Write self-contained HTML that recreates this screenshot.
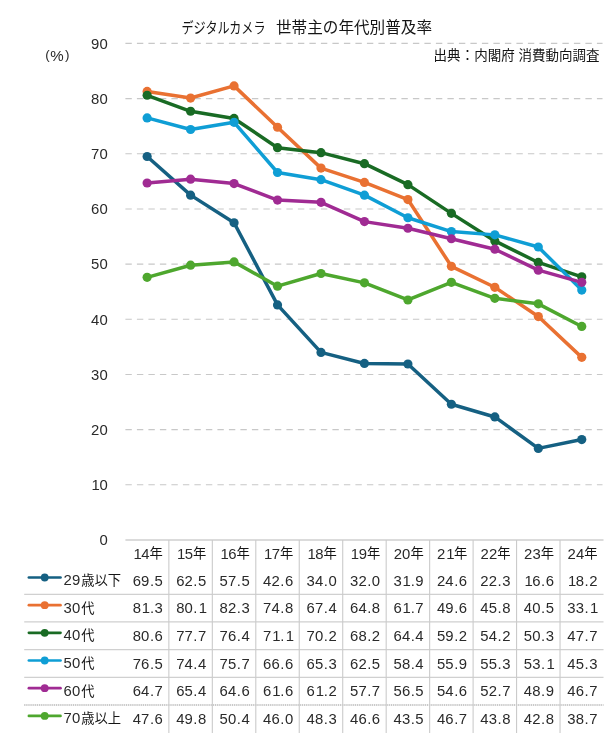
<!DOCTYPE html>
<html lang="ja"><head><meta charset="utf-8"><title>デジタルカメラ 世帯主の年代別普及率</title>
<style>
html,body{margin:0;padding:0;background:#fff}
body{width:614px;height:733px;overflow:hidden}
svg{display:block}
text{font-family:"Liberation Sans",sans-serif;white-space:pre}
text.jp{font-family:"Liberation Sans","Noto Sans CJK JP",sans-serif}
</style></head><body>
<svg width="614" height="733" viewBox="0 0 614 733" style="will-change:transform">
<rect width="614" height="733" fill="#fff"/>
<path d="M125.4 484.82H602.5M125.4 429.64H602.5M125.4 374.47H602.5M125.4 319.29H602.5M125.4 264.11H602.5M125.4 208.93H602.5M125.4 153.76H602.5M125.4 98.58H602.5M125.4 43.4H602.5" stroke="#c8c8c8" stroke-width="1.1" stroke-dasharray="6.4 5.1" fill="none"/>
<path d="M125.4 540H603.5M24.2 594.3H603.5M24.2 621.97H603.5M24.2 649.65H603.5M24.2 677.32H603.5" stroke="#d0d0d0" stroke-width="1.3" fill="none"/>
<path d="M24.2 705H603.5" stroke="#ececec" stroke-width="1.3" fill="none"/><path d="M24.2 705H603.5" stroke="#bcbcbc" stroke-width="1.3" stroke-dasharray="1.06 1.06" fill="none"/>
<path d="M168.86 540V733M212.33 540V733M255.79 540V733M299.25 540V733M342.72 540V733M386.18 540V733M429.65 540V733M473.11 540V733M516.57 540V733M560.04 540V733" stroke="#cbcbcb" stroke-width="1.1" fill="none"/>
<g fill="#156082" stroke="#156082">
<polyline points="147.13,156.51 190.6,195.14 234.06,222.73 277.52,304.94 320.99,352.4 364.45,363.43 407.91,363.98 451.38,404.26 494.84,416.95 538.3,448.4 581.77,439.58" fill="none" stroke-width="3.5" stroke-linejoin="round" stroke-linecap="round"/>
<g stroke="none"><circle cx="147.13" cy="156.51" r="4.6"/><circle cx="190.6" cy="195.14" r="4.6"/><circle cx="234.06" cy="222.73" r="4.6"/><circle cx="277.52" cy="304.94" r="4.6"/><circle cx="320.99" cy="352.4" r="4.6"/><circle cx="364.45" cy="363.43" r="4.6"/><circle cx="407.91" cy="363.98" r="4.6"/><circle cx="451.38" cy="404.26" r="4.6"/><circle cx="494.84" cy="416.95" r="4.6"/><circle cx="538.3" cy="448.4" r="4.6"/><circle cx="581.77" cy="439.58" r="4.6"/></g>
</g>
<g fill="#E97132" stroke="#E97132">
<polyline points="147.13,91.4 190.6,98.03 234.06,85.89 277.52,127.27 320.99,168.1 364.45,182.45 407.91,199.55 451.38,266.32 494.84,287.29 538.3,316.53 581.77,357.36" fill="none" stroke-width="3.5" stroke-linejoin="round" stroke-linecap="round"/>
<g stroke="none"><circle cx="147.13" cy="91.4" r="4.6"/><circle cx="190.6" cy="98.03" r="4.6"/><circle cx="234.06" cy="85.89" r="4.6"/><circle cx="277.52" cy="127.27" r="4.6"/><circle cx="320.99" cy="168.1" r="4.6"/><circle cx="364.45" cy="182.45" r="4.6"/><circle cx="407.91" cy="199.55" r="4.6"/><circle cx="451.38" cy="266.32" r="4.6"/><circle cx="494.84" cy="287.29" r="4.6"/><circle cx="538.3" cy="316.53" r="4.6"/><circle cx="581.77" cy="357.36" r="4.6"/></g>
</g>
<g fill="#196B24" stroke="#196B24">
<polyline points="147.13,95.27 190.6,111.27 234.06,118.44 277.52,147.69 320.99,152.65 364.45,163.69 407.91,184.66 451.38,213.35 494.84,240.94 538.3,262.46 581.77,276.8" fill="none" stroke-width="3.5" stroke-linejoin="round" stroke-linecap="round"/>
<g stroke="none"><circle cx="147.13" cy="95.27" r="4.6"/><circle cx="190.6" cy="111.27" r="4.6"/><circle cx="234.06" cy="118.44" r="4.6"/><circle cx="277.52" cy="147.69" r="4.6"/><circle cx="320.99" cy="152.65" r="4.6"/><circle cx="364.45" cy="163.69" r="4.6"/><circle cx="407.91" cy="184.66" r="4.6"/><circle cx="451.38" cy="213.35" r="4.6"/><circle cx="494.84" cy="240.94" r="4.6"/><circle cx="538.3" cy="262.46" r="4.6"/><circle cx="581.77" cy="276.8" r="4.6"/></g>
</g>
<g fill="#0F9ED5" stroke="#0F9ED5">
<polyline points="147.13,117.89 190.6,129.48 234.06,122.3 277.52,172.52 320.99,179.69 364.45,195.14 407.91,217.76 451.38,231.56 494.84,234.87 538.3,247.01 581.77,290.04" fill="none" stroke-width="3.5" stroke-linejoin="round" stroke-linecap="round"/>
<g stroke="none"><circle cx="147.13" cy="117.89" r="4.6"/><circle cx="190.6" cy="129.48" r="4.6"/><circle cx="234.06" cy="122.3" r="4.6"/><circle cx="277.52" cy="172.52" r="4.6"/><circle cx="320.99" cy="179.69" r="4.6"/><circle cx="364.45" cy="195.14" r="4.6"/><circle cx="407.91" cy="217.76" r="4.6"/><circle cx="451.38" cy="231.56" r="4.6"/><circle cx="494.84" cy="234.87" r="4.6"/><circle cx="538.3" cy="247.01" r="4.6"/><circle cx="581.77" cy="290.04" r="4.6"/></g>
</g>
<g fill="#A02B93" stroke="#A02B93">
<polyline points="147.13,183 190.6,179.14 234.06,183.55 277.52,200.1 320.99,202.31 364.45,221.62 407.91,228.25 451.38,238.73 494.84,249.21 538.3,270.18 581.77,282.32" fill="none" stroke-width="3.5" stroke-linejoin="round" stroke-linecap="round"/>
<g stroke="none"><circle cx="147.13" cy="183" r="4.6"/><circle cx="190.6" cy="179.14" r="4.6"/><circle cx="234.06" cy="183.55" r="4.6"/><circle cx="277.52" cy="200.1" r="4.6"/><circle cx="320.99" cy="202.31" r="4.6"/><circle cx="364.45" cy="221.62" r="4.6"/><circle cx="407.91" cy="228.25" r="4.6"/><circle cx="451.38" cy="238.73" r="4.6"/><circle cx="494.84" cy="249.21" r="4.6"/><circle cx="538.3" cy="270.18" r="4.6"/><circle cx="581.77" cy="282.32" r="4.6"/></g>
</g>
<g fill="#4EA72E" stroke="#4EA72E">
<polyline points="147.13,277.35 190.6,265.21 234.06,261.9 277.52,286.18 320.99,273.49 364.45,282.87 407.91,299.98 451.38,282.32 494.84,298.32 538.3,303.84 581.77,326.46" fill="none" stroke-width="3.5" stroke-linejoin="round" stroke-linecap="round"/>
<g stroke="none"><circle cx="147.13" cy="277.35" r="4.6"/><circle cx="190.6" cy="265.21" r="4.6"/><circle cx="234.06" cy="261.9" r="4.6"/><circle cx="277.52" cy="286.18" r="4.6"/><circle cx="320.99" cy="273.49" r="4.6"/><circle cx="364.45" cy="282.87" r="4.6"/><circle cx="407.91" cy="299.98" r="4.6"/><circle cx="451.38" cy="282.32" r="4.6"/><circle cx="494.84" cy="298.32" r="4.6"/><circle cx="538.3" cy="303.84" r="4.6"/><circle cx="581.77" cy="326.46" r="4.6"/></g>
</g>
<text class="jp" x="181.5" y="32.5" font-size="15" fill="#141414" textLength="84" lengthAdjust="spacingAndGlyphs">デジタルカメラ</text>
<text class="jp" x="276" y="32.5" font-size="15.6" fill="#141414" textLength="156" lengthAdjust="spacingAndGlyphs">世帯主の年代別普及率</text>
<text class="jp" x="433.6" y="59.6" font-size="13.3" fill="#141414" textLength="166" lengthAdjust="spacingAndGlyphs">出典：内閣府 消費動向調査</text>
<text class="jp" x="149.6" y="558.3" font-size="13.3" fill="#141414">年</text>
<text class="jp" x="193.1" y="558.3" font-size="13.3" fill="#141414">年</text>
<text class="jp" x="236.5" y="558.3" font-size="13.3" fill="#141414">年</text>
<text class="jp" x="280" y="558.3" font-size="13.3" fill="#141414">年</text>
<text class="jp" x="323.5" y="558.3" font-size="13.3" fill="#141414">年</text>
<text class="jp" x="366.9" y="558.3" font-size="13.3" fill="#141414">年</text>
<text class="jp" x="410.4" y="558.3" font-size="13.3" fill="#141414">年</text>
<text class="jp" x="453.9" y="558.3" font-size="13.3" fill="#141414">年</text>
<text class="jp" x="497.3" y="558.3" font-size="13.3" fill="#141414">年</text>
<text class="jp" x="540.8" y="558.3" font-size="13.3" fill="#141414">年</text>
<text class="jp" x="584.2" y="558.3" font-size="13.3" fill="#141414">年</text>
<path d="M28.9 577.5H60.5" stroke="#156082" stroke-width="2.7" stroke-linecap="round"/><circle cx="44.7" cy="577.5" r="3.9" fill="#156082"/>
<text class="jp" x="81.2" y="584.8" font-size="13.3" fill="#141414">歳以下</text>
<path d="M28.9 605.17H60.5" stroke="#E97132" stroke-width="2.7" stroke-linecap="round"/><circle cx="44.7" cy="605.17" r="3.9" fill="#E97132"/>
<text class="jp" x="81.2" y="612.5" font-size="13.3" fill="#141414">代</text>
<path d="M28.9 632.85H60.5" stroke="#196B24" stroke-width="2.7" stroke-linecap="round"/><circle cx="44.7" cy="632.85" r="3.9" fill="#196B24"/>
<text class="jp" x="81.2" y="640.2" font-size="13.3" fill="#141414">代</text>
<path d="M28.9 660.52H60.5" stroke="#0F9ED5" stroke-width="2.7" stroke-linecap="round"/><circle cx="44.7" cy="660.52" r="3.9" fill="#0F9ED5"/>
<text class="jp" x="81.2" y="667.9" font-size="13.3" fill="#141414">代</text>
<path d="M28.9 688.2H60.5" stroke="#A02B93" stroke-width="2.7" stroke-linecap="round"/><circle cx="44.7" cy="688.2" r="3.9" fill="#A02B93"/>
<text class="jp" x="81.2" y="695.5" font-size="13.3" fill="#141414">代</text>
<path d="M28.9 715.88H60.5" stroke="#4EA72E" stroke-width="2.7" stroke-linecap="round"/><circle cx="44.7" cy="715.88" r="3.9" fill="#4EA72E"/>
<text class="jp" x="81.2" y="723.2" font-size="13.3" fill="#141414">歳以上</text>
<defs><mask id="tm" maskUnits="userSpaceOnUse" x="0" y="0" width="614" height="733"><rect width="614" height="733" fill="#fff"/></mask></defs>
<g mask="url(#tm)">
<text transform="translate(99.35 545.35) scale(0.98 1)" x="0.09" font-size="15.2" fill="#2a2a2a">0</text>
<text transform="translate(90.85 490.17) scale(0.98 1)" x="0.8 8.72" font-size="15.2" fill="#2a2a2a">10</text>
<text transform="translate(90.85 434.99) scale(0.98 1)" x="0.09 8.72" font-size="15.2" fill="#2a2a2a">20</text>
<text transform="translate(90.85 379.82) scale(0.98 1)" x="0.09 8.72" font-size="15.2" fill="#2a2a2a">30</text>
<text transform="translate(90.85 324.64) scale(0.98 1)" x="0.09 8.72" font-size="15.2" fill="#2a2a2a">40</text>
<text transform="translate(90.85 269.46) scale(0.98 1)" x="0.09 8.72" font-size="15.2" fill="#2a2a2a">50</text>
<text transform="translate(90.85 214.28) scale(0.98 1)" x="0.09 8.72" font-size="15.2" fill="#2a2a2a">60</text>
<text transform="translate(90.85 159.11) scale(0.98 1)" x="0.09 8.72" font-size="15.2" fill="#2a2a2a">70</text>
<text transform="translate(90.85 103.93) scale(0.98 1)" x="0.09 8.72" font-size="15.2" fill="#2a2a2a">80</text>
<text transform="translate(90.85 48.75) scale(0.98 1)" x="0.09 8.72" font-size="15.2" fill="#2a2a2a">90</text>
<text transform="translate(45.2 59.2) scale(1 1)" font-size="13.4" fill="#2a2a2a">(</text>
<text transform="translate(50.2 60.85) scale(1 1)" font-size="15.1" fill="#2a2a2a">%</text>
<text transform="translate(65 59.2) scale(1 1)" font-size="13.4" fill="#2a2a2a">)</text>
<text transform="translate(132.78 558.5) scale(0.98 1)" x="0.8 8.72" font-size="15.2" fill="#2a2a2a">14</text>
<text transform="translate(176.25 558.5) scale(0.98 1)" x="0.8 8.72" font-size="15.2" fill="#2a2a2a">15</text>
<text transform="translate(219.71 558.5) scale(0.98 1)" x="0.8 8.72" font-size="15.2" fill="#2a2a2a">16</text>
<text transform="translate(263.17 558.5) scale(0.98 1)" x="0.8 8.72" font-size="15.2" fill="#2a2a2a">17</text>
<text transform="translate(306.64 558.5) scale(0.98 1)" x="0.8 8.72" font-size="15.2" fill="#2a2a2a">18</text>
<text transform="translate(350.1 558.5) scale(0.98 1)" x="0.8 8.72" font-size="15.2" fill="#2a2a2a">19</text>
<text transform="translate(393.56 558.5) scale(0.98 1)" x="0.09 8.72" font-size="15.2" fill="#2a2a2a">20</text>
<text transform="translate(437.03 558.5) scale(0.98 1)" x="0.09 9.43" font-size="15.2" fill="#2a2a2a">21</text>
<text transform="translate(480.49 558.5) scale(0.98 1)" x="0.09 8.72" font-size="15.2" fill="#2a2a2a">22</text>
<text transform="translate(523.95 558.5) scale(0.98 1)" x="0.09 8.72" font-size="15.2" fill="#2a2a2a">23</text>
<text transform="translate(567.42 558.5) scale(0.98 1)" x="0.09 8.72" font-size="15.2" fill="#2a2a2a">24</text>
<text transform="translate(63.45 585.05) scale(0.98 1)" x="0.09 8.72" font-size="15.2" fill="#2a2a2a">29</text>
<text transform="translate(132.58 585.75) scale(0.98 1)" x="0.09 8.72 17.69 22.42" font-size="15.2" fill="#2a2a2a">69.5</text>
<text transform="translate(176.05 585.75) scale(0.98 1)" x="0.09 8.72 17.69 22.42" font-size="15.2" fill="#2a2a2a">62.5</text>
<text transform="translate(219.51 585.75) scale(0.98 1)" x="0.09 8.72 17.69 22.42" font-size="15.2" fill="#2a2a2a">57.5</text>
<text transform="translate(262.97 585.75) scale(0.98 1)" x="0.09 8.72 17.69 22.42" font-size="15.2" fill="#2a2a2a">42.6</text>
<text transform="translate(306.44 585.75) scale(0.98 1)" x="0.09 8.72 17.69 22.42" font-size="15.2" fill="#2a2a2a">34.0</text>
<text transform="translate(349.9 585.75) scale(0.98 1)" x="0.09 8.72 17.69 22.42" font-size="15.2" fill="#2a2a2a">32.0</text>
<text transform="translate(393.36 585.75) scale(0.98 1)" x="0.09 9.43 17.69 22.42" font-size="15.2" fill="#2a2a2a">31.9</text>
<text transform="translate(436.83 585.75) scale(0.98 1)" x="0.09 8.72 17.69 22.42" font-size="15.2" fill="#2a2a2a">24.6</text>
<text transform="translate(480.29 585.75) scale(0.98 1)" x="0.09 8.72 17.69 22.42" font-size="15.2" fill="#2a2a2a">22.3</text>
<text transform="translate(523.75 585.75) scale(0.98 1)" x="0.8 8.72 17.69 22.42" font-size="15.2" fill="#2a2a2a">16.6</text>
<text transform="translate(567.22 585.75) scale(0.98 1)" x="0.8 8.72 17.69 22.42" font-size="15.2" fill="#2a2a2a">18.2</text>
<text transform="translate(63.45 612.72) scale(0.98 1)" x="0.09 8.72" font-size="15.2" fill="#2a2a2a">30</text>
<text transform="translate(132.58 613.42) scale(0.98 1)" x="0.09 9.43 17.69 22.42" font-size="15.2" fill="#2a2a2a">81.3</text>
<text transform="translate(176.05 613.42) scale(0.98 1)" x="0.09 8.72 17.69 23.13" font-size="15.2" fill="#2a2a2a">80.1</text>
<text transform="translate(219.51 613.42) scale(0.98 1)" x="0.09 8.72 17.69 22.42" font-size="15.2" fill="#2a2a2a">82.3</text>
<text transform="translate(262.97 613.42) scale(0.98 1)" x="0.09 8.72 17.69 22.42" font-size="15.2" fill="#2a2a2a">74.8</text>
<text transform="translate(306.44 613.42) scale(0.98 1)" x="0.09 8.72 17.69 22.42" font-size="15.2" fill="#2a2a2a">67.4</text>
<text transform="translate(349.9 613.42) scale(0.98 1)" x="0.09 8.72 17.69 22.42" font-size="15.2" fill="#2a2a2a">64.8</text>
<text transform="translate(393.36 613.42) scale(0.98 1)" x="0.09 9.43 17.69 22.42" font-size="15.2" fill="#2a2a2a">61.7</text>
<text transform="translate(436.83 613.42) scale(0.98 1)" x="0.09 8.72 17.69 22.42" font-size="15.2" fill="#2a2a2a">49.6</text>
<text transform="translate(480.29 613.42) scale(0.98 1)" x="0.09 8.72 17.69 22.42" font-size="15.2" fill="#2a2a2a">45.8</text>
<text transform="translate(523.75 613.42) scale(0.98 1)" x="0.09 8.72 17.69 22.42" font-size="15.2" fill="#2a2a2a">40.5</text>
<text transform="translate(567.22 613.42) scale(0.98 1)" x="0.09 8.72 17.69 23.13" font-size="15.2" fill="#2a2a2a">33.1</text>
<text transform="translate(63.45 640.4) scale(0.98 1)" x="0.09 8.72" font-size="15.2" fill="#2a2a2a">40</text>
<text transform="translate(132.58 641.1) scale(0.98 1)" x="0.09 8.72 17.69 22.42" font-size="15.2" fill="#2a2a2a">80.6</text>
<text transform="translate(176.05 641.1) scale(0.98 1)" x="0.09 8.72 17.69 22.42" font-size="15.2" fill="#2a2a2a">77.7</text>
<text transform="translate(219.51 641.1) scale(0.98 1)" x="0.09 8.72 17.69 22.42" font-size="15.2" fill="#2a2a2a">76.4</text>
<text transform="translate(262.97 641.1) scale(0.98 1)" x="0.09 9.43 17.69 23.13" font-size="15.2" fill="#2a2a2a">71.1</text>
<text transform="translate(306.44 641.1) scale(0.98 1)" x="0.09 8.72 17.69 22.42" font-size="15.2" fill="#2a2a2a">70.2</text>
<text transform="translate(349.9 641.1) scale(0.98 1)" x="0.09 8.72 17.69 22.42" font-size="15.2" fill="#2a2a2a">68.2</text>
<text transform="translate(393.36 641.1) scale(0.98 1)" x="0.09 8.72 17.69 22.42" font-size="15.2" fill="#2a2a2a">64.4</text>
<text transform="translate(436.83 641.1) scale(0.98 1)" x="0.09 8.72 17.69 22.42" font-size="15.2" fill="#2a2a2a">59.2</text>
<text transform="translate(480.29 641.1) scale(0.98 1)" x="0.09 8.72 17.69 22.42" font-size="15.2" fill="#2a2a2a">54.2</text>
<text transform="translate(523.75 641.1) scale(0.98 1)" x="0.09 8.72 17.69 22.42" font-size="15.2" fill="#2a2a2a">50.3</text>
<text transform="translate(567.22 641.1) scale(0.98 1)" x="0.09 8.72 17.69 22.42" font-size="15.2" fill="#2a2a2a">47.7</text>
<text transform="translate(63.45 668.07) scale(0.98 1)" x="0.09 8.72" font-size="15.2" fill="#2a2a2a">50</text>
<text transform="translate(132.58 668.77) scale(0.98 1)" x="0.09 8.72 17.69 22.42" font-size="15.2" fill="#2a2a2a">76.5</text>
<text transform="translate(176.05 668.77) scale(0.98 1)" x="0.09 8.72 17.69 22.42" font-size="15.2" fill="#2a2a2a">74.4</text>
<text transform="translate(219.51 668.77) scale(0.98 1)" x="0.09 8.72 17.69 22.42" font-size="15.2" fill="#2a2a2a">75.7</text>
<text transform="translate(262.97 668.77) scale(0.98 1)" x="0.09 8.72 17.69 22.42" font-size="15.2" fill="#2a2a2a">66.6</text>
<text transform="translate(306.44 668.77) scale(0.98 1)" x="0.09 8.72 17.69 22.42" font-size="15.2" fill="#2a2a2a">65.3</text>
<text transform="translate(349.9 668.77) scale(0.98 1)" x="0.09 8.72 17.69 22.42" font-size="15.2" fill="#2a2a2a">62.5</text>
<text transform="translate(393.36 668.77) scale(0.98 1)" x="0.09 8.72 17.69 22.42" font-size="15.2" fill="#2a2a2a">58.4</text>
<text transform="translate(436.83 668.77) scale(0.98 1)" x="0.09 8.72 17.69 22.42" font-size="15.2" fill="#2a2a2a">55.9</text>
<text transform="translate(480.29 668.77) scale(0.98 1)" x="0.09 8.72 17.69 22.42" font-size="15.2" fill="#2a2a2a">55.3</text>
<text transform="translate(523.75 668.77) scale(0.98 1)" x="0.09 8.72 17.69 23.13" font-size="15.2" fill="#2a2a2a">53.1</text>
<text transform="translate(567.22 668.77) scale(0.98 1)" x="0.09 8.72 17.69 22.42" font-size="15.2" fill="#2a2a2a">45.3</text>
<text transform="translate(63.45 695.75) scale(0.98 1)" x="0.09 8.72" font-size="15.2" fill="#2a2a2a">60</text>
<text transform="translate(132.58 696.45) scale(0.98 1)" x="0.09 8.72 17.69 22.42" font-size="15.2" fill="#2a2a2a">64.7</text>
<text transform="translate(176.05 696.45) scale(0.98 1)" x="0.09 8.72 17.69 22.42" font-size="15.2" fill="#2a2a2a">65.4</text>
<text transform="translate(219.51 696.45) scale(0.98 1)" x="0.09 8.72 17.69 22.42" font-size="15.2" fill="#2a2a2a">64.6</text>
<text transform="translate(262.97 696.45) scale(0.98 1)" x="0.09 9.43 17.69 22.42" font-size="15.2" fill="#2a2a2a">61.6</text>
<text transform="translate(306.44 696.45) scale(0.98 1)" x="0.09 9.43 17.69 22.42" font-size="15.2" fill="#2a2a2a">61.2</text>
<text transform="translate(349.9 696.45) scale(0.98 1)" x="0.09 8.72 17.69 22.42" font-size="15.2" fill="#2a2a2a">57.7</text>
<text transform="translate(393.36 696.45) scale(0.98 1)" x="0.09 8.72 17.69 22.42" font-size="15.2" fill="#2a2a2a">56.5</text>
<text transform="translate(436.83 696.45) scale(0.98 1)" x="0.09 8.72 17.69 22.42" font-size="15.2" fill="#2a2a2a">54.6</text>
<text transform="translate(480.29 696.45) scale(0.98 1)" x="0.09 8.72 17.69 22.42" font-size="15.2" fill="#2a2a2a">52.7</text>
<text transform="translate(523.75 696.45) scale(0.98 1)" x="0.09 8.72 17.69 22.42" font-size="15.2" fill="#2a2a2a">48.9</text>
<text transform="translate(567.22 696.45) scale(0.98 1)" x="0.09 8.72 17.69 22.42" font-size="15.2" fill="#2a2a2a">46.7</text>
<text transform="translate(63.45 723.42) scale(0.98 1)" x="0.09 8.72" font-size="15.2" fill="#2a2a2a">70</text>
<text transform="translate(132.58 724.12) scale(0.98 1)" x="0.09 8.72 17.69 22.42" font-size="15.2" fill="#2a2a2a">47.6</text>
<text transform="translate(176.05 724.12) scale(0.98 1)" x="0.09 8.72 17.69 22.42" font-size="15.2" fill="#2a2a2a">49.8</text>
<text transform="translate(219.51 724.12) scale(0.98 1)" x="0.09 8.72 17.69 22.42" font-size="15.2" fill="#2a2a2a">50.4</text>
<text transform="translate(262.97 724.12) scale(0.98 1)" x="0.09 8.72 17.69 22.42" font-size="15.2" fill="#2a2a2a">46.0</text>
<text transform="translate(306.44 724.12) scale(0.98 1)" x="0.09 8.72 17.69 22.42" font-size="15.2" fill="#2a2a2a">48.3</text>
<text transform="translate(349.9 724.12) scale(0.98 1)" x="0.09 8.72 17.69 22.42" font-size="15.2" fill="#2a2a2a">46.6</text>
<text transform="translate(393.36 724.12) scale(0.98 1)" x="0.09 8.72 17.69 22.42" font-size="15.2" fill="#2a2a2a">43.5</text>
<text transform="translate(436.83 724.12) scale(0.98 1)" x="0.09 8.72 17.69 22.42" font-size="15.2" fill="#2a2a2a">46.7</text>
<text transform="translate(480.29 724.12) scale(0.98 1)" x="0.09 8.72 17.69 22.42" font-size="15.2" fill="#2a2a2a">43.8</text>
<text transform="translate(523.75 724.12) scale(0.98 1)" x="0.09 8.72 17.69 22.42" font-size="15.2" fill="#2a2a2a">42.8</text>
<text transform="translate(567.22 724.12) scale(0.98 1)" x="0.09 8.72 17.69 22.42" font-size="15.2" fill="#2a2a2a">38.7</text>
</g>
</svg>
</body></html>
